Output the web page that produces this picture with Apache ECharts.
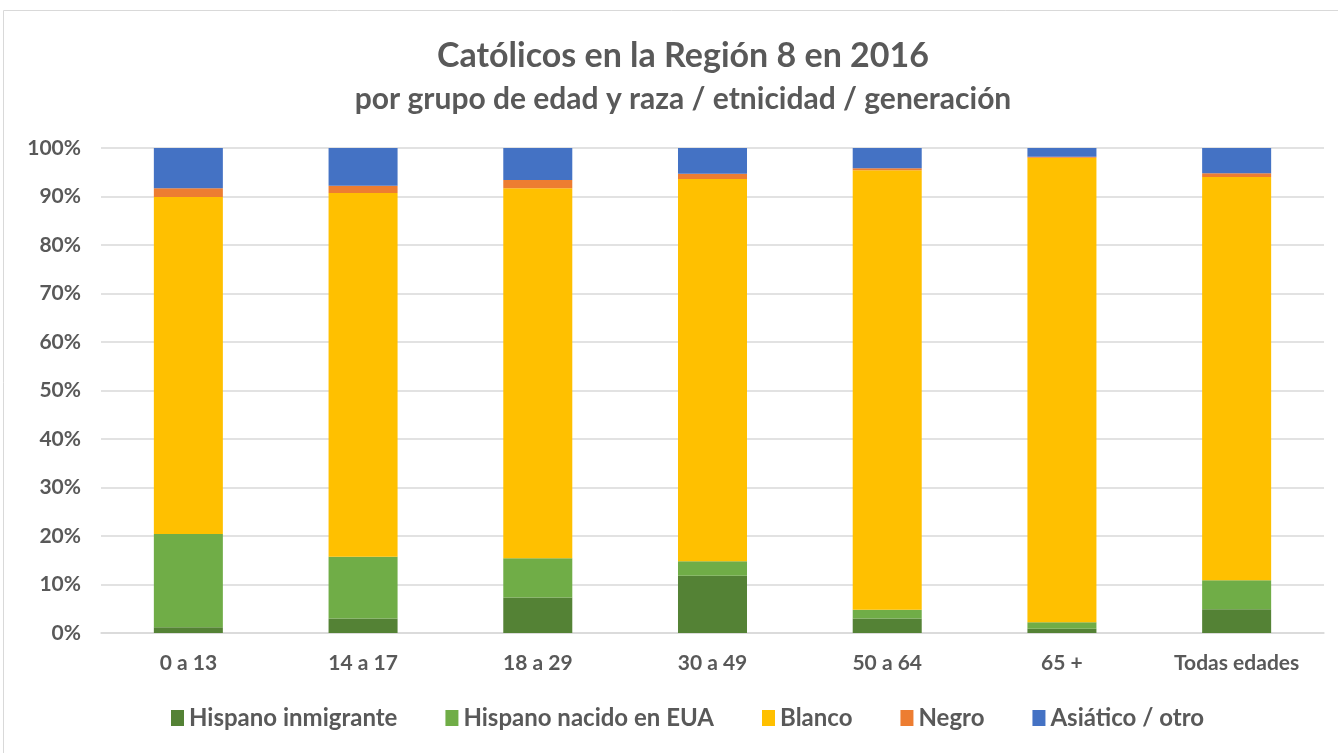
<!DOCTYPE html>
<html>
<head>
<meta charset="utf-8">
<script src="https://cdn.jsdelivr.net/npm/echarts@6/dist/echarts.min.js"></script>
<style>
  html, body { margin: 0; padding: 0; background: #fff; }
  #chart { width: 1338px; height: 753px; }
</style>
</head>
<body>
<div id="chart"></div>
<script>
var categories = ['0 a 13', '14 a 17', '18 a 29', '30 a 49', '50 a 64', '65 +', 'Todas edades'];
var hispanoInmigrante = [1.2, 3.0, 7.3, 11.8, 3.0, 0.9, 4.9];
var hispanoNacido = [19.2, 12.7, 8.1, 3.0, 1.8, 1.3, 6.0];
var blanco = [69.5, 75.0, 76.3, 78.8, 90.6, 95.8, 83.1];
var negro = [1.8, 1.5, 1.7, 1.1, 0.4, 0.2, 0.8];
var asiatico = [8.3, 7.8, 6.6, 5.3, 4.2, 1.8, 5.2];

var seriesNames = ['Hispano inmigrante', 'Hispano nacido en EUA', 'Blanco', 'Negro', 'Asiático / otro'];
var seriesData = [hispanoInmigrante, hispanoNacido, blanco, negro, asiatico];
var colors = ['#548235', '#70AD47', '#FFC000', '#ED7D31', '#4472C4'];

var fontFam = 'Lato, "Open Sans", sans-serif';

var chartDom = document.getElementById('chart');
var myChart = echarts.init(chartDom);

var option = {
    animation: false,
    color: colors,
    graphic: [{
        type: 'rect',
        shape: { x: 3.5, y: 10.5, width: 1345, height: 760 },
        style: { fill: 'none', stroke: '#d9d9d9', lineWidth: 1 },
        silent: true
    }],
    title: {
        text: 'Católicos en la Región 8 en 2016',
        subtext: 'por grupo de edad y raza / etnicidad / generación',
        left: 678,
        textAlign: 'center',
        top: 34,
        itemGap: 11,
        textStyle: { fontFamily: fontFam, fontSize: 34, fontWeight: 'bold', color: '#595959' },
        subtextStyle: { fontFamily: fontFam, fontSize: 30, fontWeight: 'bold', color: '#595959' }
    },
    legend: {
        bottom: 18,
        left: 166,
        itemWidth: 13,
        itemHeight: 16,
        itemGap: 48,
        icon: 'rect',
        textStyle: { fontFamily: fontFam, fontSize: 24, fontWeight: 'bold', color: '#595959' },
        data: seriesNames
    },
    grid: { left: 101, right: 14, top: 148, bottom: 120, containLabel: false },
    xAxis: {
        type: 'category',
        data: categories,
        axisLine: { show: true, lineStyle: { color: '#d9d9d9', width: 1.5 } },
        axisTick: { show: false },
        axisLabel: { margin: 20, fontFamily: fontFam, fontSize: 21, fontWeight: 'bold', color: '#595959' }
    },
    yAxis: {
        type: 'value',
        min: 0,
        max: 100,
        interval: 10,
        axisLine: { show: false },
        axisTick: { show: false },
        splitLine: { lineStyle: { color: '#d9d9d9', width: 1.5 } },
        axisLabel: { formatter: '{value}%', margin: 20, fontFamily: fontFam, fontSize: 21, fontWeight: 'bold', color: '#595959' }
    },
    series: seriesNames.map(function (name, i) {
        return {
            name: name,
            type: 'bar',
            stack: 'total',
            barWidth: '39.5%',
            data: seriesData[i],
            itemStyle: { color: colors[i] }
        };
    })
};

myChart.setOption(option);
</script>
</body>
</html>
